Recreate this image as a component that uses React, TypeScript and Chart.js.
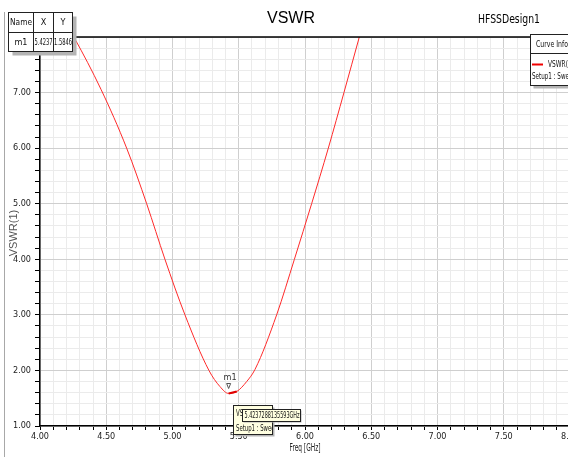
import { useEffect, useRef } from 'react';
import { Chart, registerables } from 'chart.js';

Chart.register(...registerables);

// Frequency sweep (GHz) and the VSWR read at each frequency
const FREQ_GHZ = [4.18, 4.26, 4.46, 4.654, 4.805, 4.943, 5.094, 5.275, 5.358, 5.4237, 5.485, 5.56, 5.623, 5.786, 5.92, 6.05, 6.176, 6.294, 6.41, 6.46];
const VSWR_VALUES = [8.3, 7.98, 7.06, 6.0, 5.0, 4.0, 3.0, 2.0, 1.71, 1.5846, 1.62, 1.8, 2.02, 3.0, 4.0, 5.0, 6.0, 7.0, 8.0, 8.43];

// Axis extents and steps
const FREQ_RANGE = [4, 8];
const VSWR_RANGE = [1, 8];
const FREQ_MINOR_STEP = 0.1;
const FREQ_LABEL_STEP = 0.5;
const VSWR_MINOR_STEP = 0.2;
const VSWR_LABEL_STEP = 1;

// Marker m1
const MARKER_NAME = 'm1';
const MARKER_FREQ = 5.4237;
const MARKER_VSWR = 1.5846;
const MARKER_FREQ_FULL = '5.4237288135593GHz';

const TITLE = 'VSWR';
const DESIGN_NAME = 'HFSSDesign1';
const X_TITLE = 'Freq [GHz]';
const Y_TITLE = 'VSWR(1)';
const CURVE_NAME = 'VSWR(1)';
const CURVE_SETUP = 'Setup1 : Sweep';

const NARROW = '"Liberation Sans Narrow", "DejaVu Sans Condensed", "Liberation Sans", Arial, sans-serif';
const SANS = '"Liberation Sans", Arial, sans-serif';
const CURVE_COLOR = '#ff2a2a';

const isMultiple = (v: number, step: number) => {
  const r = v / step;
  return Math.abs(r - Math.round(r)) < 1e-6;
};

function shadowBox(ctx: CanvasRenderingContext2D, x: number, y: number, w: number, h: number, fill: string, shadow: number) {
  ctx.fillStyle = '#b4b4b4';
  ctx.fillRect(x + shadow, y + shadow, w, h);
  ctx.fillStyle = fill;
  ctx.fillRect(x, y, w, h);
  ctx.strokeStyle = '#222';
  ctx.lineWidth = 1;
  ctx.strokeRect(x, y, w, h);
}

const overlay = {
  id: 'hfssOverlay',
  afterDraw(chart: any) {
    const { ctx, chartArea: a, scales } = chart;
    const xs = scales.x;
    const ys = scales.y;
    ctx.save();

    // frame line along the top of the plot
    ctx.strokeStyle = '#000';
    ctx.lineWidth = 1.5;
    ctx.beginPath();
    ctx.moveTo(a.left, a.top);
    ctx.lineTo(a.right, a.top);
    ctx.stroke();

    // page border on the left
    ctx.strokeStyle = '#a8a8a8';
    ctx.lineWidth = 1;
    ctx.beginPath();
    ctx.moveTo(4.5, 12);
    ctx.lineTo(4.5, 457);
    ctx.stroke();

    // titles
    ctx.fillStyle = '#000';
    ctx.textBaseline = 'middle';
    ctx.textAlign = 'center';
    ctx.font = `16px ${SANS}`;
    ctx.fillText(TITLE, 291, 19);

    ctx.textAlign = 'left';
    ctx.font = `12px ${NARROW}`;
    ctx.fillText(DESIGN_NAME, 478, 20, 62);

    ctx.textAlign = 'center';
    ctx.fillStyle = '#222';
    ctx.font = `10px ${NARROW}`;
    ctx.fillText(X_TITLE, 305, 448, 31);

    ctx.save();
    ctx.translate(14, 233);
    ctx.rotate(-Math.PI / 2);
    ctx.fillStyle = '#555';
    ctx.font = `11px ${SANS}`;
    ctx.fillText(Y_TITLE, 0, 0, 54);
    ctx.restore();

    // marker m1 on the curve
    const mi = FREQ_GHZ.indexOf(MARKER_FREQ);
    const px = xs.getPixelForValue(MARKER_FREQ);
    const py = ys.getPixelForValue(MARKER_VSWR);
    const nx = xs.getPixelForValue(FREQ_GHZ[mi + 1]);
    const ny = ys.getPixelForValue(VSWR_VALUES[mi + 1]);
    ctx.strokeStyle = '#e00000';
    ctx.lineWidth = 2;
    ctx.beginPath();
    ctx.moveTo(px, py);
    ctx.lineTo(nx, ny);
    ctx.stroke();

    ctx.strokeStyle = '#555';
    ctx.lineWidth = 1;
    ctx.beginPath();
    ctx.moveTo(px - 2, py - 10);
    ctx.lineTo(px + 2, py - 10);
    ctx.lineTo(px, py - 5);
    ctx.closePath();
    ctx.stroke();
    ctx.fillStyle = '#333';
    ctx.font = `9px ${NARROW}`;
    ctx.textAlign = 'center';
    ctx.fillText(MARKER_NAME, px + 1.5, py - 16);

    // marker table
    shadowBox(ctx, 8.5, 12.5, 64, 39, '#fff', 4);
    ctx.beginPath();
    ctx.moveTo(8.5, 32.5); ctx.lineTo(72.5, 32.5);
    ctx.moveTo(33.5, 12.5); ctx.lineTo(33.5, 51.5);
    ctx.moveTo(53.5, 12.5); ctx.lineTo(53.5, 51.5);
    ctx.stroke();
    ctx.fillStyle = '#111';
    ctx.font = `9px ${NARROW}`;
    ctx.fillText('Name', 21, 22.5, 22);
    ctx.fillText('X', 43.5, 22.5);
    ctx.fillText('Y', 63, 22.5);
    ctx.fillText(MARKER_NAME, 21, 42.5);
    ctx.fillText(MARKER_FREQ.toFixed(4), 43.5, 42.5, 18);
    ctx.fillText(MARKER_VSWR.toFixed(4), 63, 42.5, 18);

    // curve info box
    shadowBox(ctx, 530.5, 34.5, 60, 51, '#fff', 3);
    ctx.beginPath();
    ctx.moveTo(530.5, 53.5); ctx.lineTo(590.5, 53.5);
    ctx.stroke();
    ctx.fillStyle = '#111';
    ctx.font = `9px ${NARROW}`;
    ctx.textAlign = 'left';
    ctx.fillText('Curve Info', 536, 44.5, 32);
    ctx.strokeStyle = '#f00000';
    ctx.lineWidth = 2;
    ctx.beginPath();
    ctx.moveTo(532, 64.5); ctx.lineTo(543, 64.5);
    ctx.stroke();
    ctx.fillText(CURVE_NAME, 548, 65, 26);
    ctx.fillText(CURVE_SETUP, 532, 76.5, 44);

    // data tips at the marker frequency
    shadowBox(ctx, 233.5, 405.5, 39, 29, '#ffffe1', 2);
    ctx.fillStyle = '#111';
    ctx.font = `8px ${NARROW}`;
    ctx.fillText(CURVE_NAME, 236, 414, 24);
    ctx.save();
    ctx.beginPath();
    ctx.rect(234, 406, 38, 28);
    ctx.clip();
    ctx.fillText(CURVE_SETUP, 236, 428.5, 42);
    ctx.restore();
    shadowBox(ctx, 242.5, 409.5, 58, 12, '#ffffe1', 1);
    ctx.fillStyle = '#111';
    ctx.fillText(MARKER_FREQ_FULL, 244.5, 416, 55);

    ctx.restore();
  },
};

export default function App() {
  const canvasRef = useRef<HTMLCanvasElement | null>(null);

  useEffect(() => {
    const canvas = canvasRef.current;
    if (!canvas) return;
    const chart = new Chart(canvas, {
      type: 'line',
      data: {
        datasets: [
          {
            label: CURVE_NAME,
            data: FREQ_GHZ.map((f, i) => ({ x: f, y: VSWR_VALUES[i] })),
            borderColor: CURVE_COLOR,
            borderWidth: 1,
            pointRadius: 0,
            cubicInterpolationMode: 'monotone',
            fill: false,
          },
        ],
      },
      options: {
        responsive: false,
        animation: false,
        events: [],
        layout: { padding: { top: 37, right: 30, left: 0, bottom: 0 } },
        plugins: { legend: { display: false }, tooltip: { enabled: false }, title: { display: false } },
        scales: {
          x: {
            type: 'linear',
            min: FREQ_RANGE[0],
            max: FREQ_RANGE[1],
            afterFit: (s: any) => { s.height = 31; },
            border: { display: true, color: '#000', width: 1.5 },
            grid: {
              color: (c: any) => (c.tick && isMultiple(c.tick.value, FREQ_LABEL_STEP) ? '#cfcfcf' : '#ebebeb'),
              lineWidth: 1,
              tickColor: '#000',
              tickLength: 4,
              drawTicks: true,
            },
            ticks: {
              stepSize: FREQ_MINOR_STEP,
              maxTicksLimit: 1000,
              autoSkip: false,
              maxRotation: 0,
              padding: 1,
              color: '#222',
              font: { family: NARROW, size: 9 },
              callback: (v: any) => (isMultiple(Number(v), FREQ_LABEL_STEP) ? Number(v).toFixed(2) : ''),
            },
          },
          y: {
            type: 'linear',
            min: VSWR_RANGE[0],
            max: VSWR_RANGE[1],
            afterFit: (s: any) => { s.width = 40; },
            border: { display: true, color: '#000', width: 1.5 },
            grid: {
              color: (c: any) => (c.tick && isMultiple(c.tick.value, VSWR_LABEL_STEP) ? '#cfcfcf' : '#ebebeb'),
              lineWidth: 1,
              tickColor: '#000',
              tickLength: 5,
              drawTicks: true,
            },
            ticks: {
              stepSize: VSWR_MINOR_STEP,
              maxTicksLimit: 1000,
              autoSkip: false,
              padding: 4,
              color: '#222',
              font: { family: NARROW, size: 9 },
              callback: (v: any) => (isMultiple(Number(v), VSWR_LABEL_STEP) ? Number(v).toFixed(2) : ''),
            },
          },
        },
      },
      plugins: [overlay],
    });
    return () => chart.destroy();
  }, []);

  return (
    <div style={{ position: 'absolute', left: 0, top: 0, width: 568, height: 457, overflow: 'hidden', background: '#fff' }}>
      <canvas ref={canvasRef} width={600} height={457} style={{ display: 'block' }} />
    </div>
  );
}
